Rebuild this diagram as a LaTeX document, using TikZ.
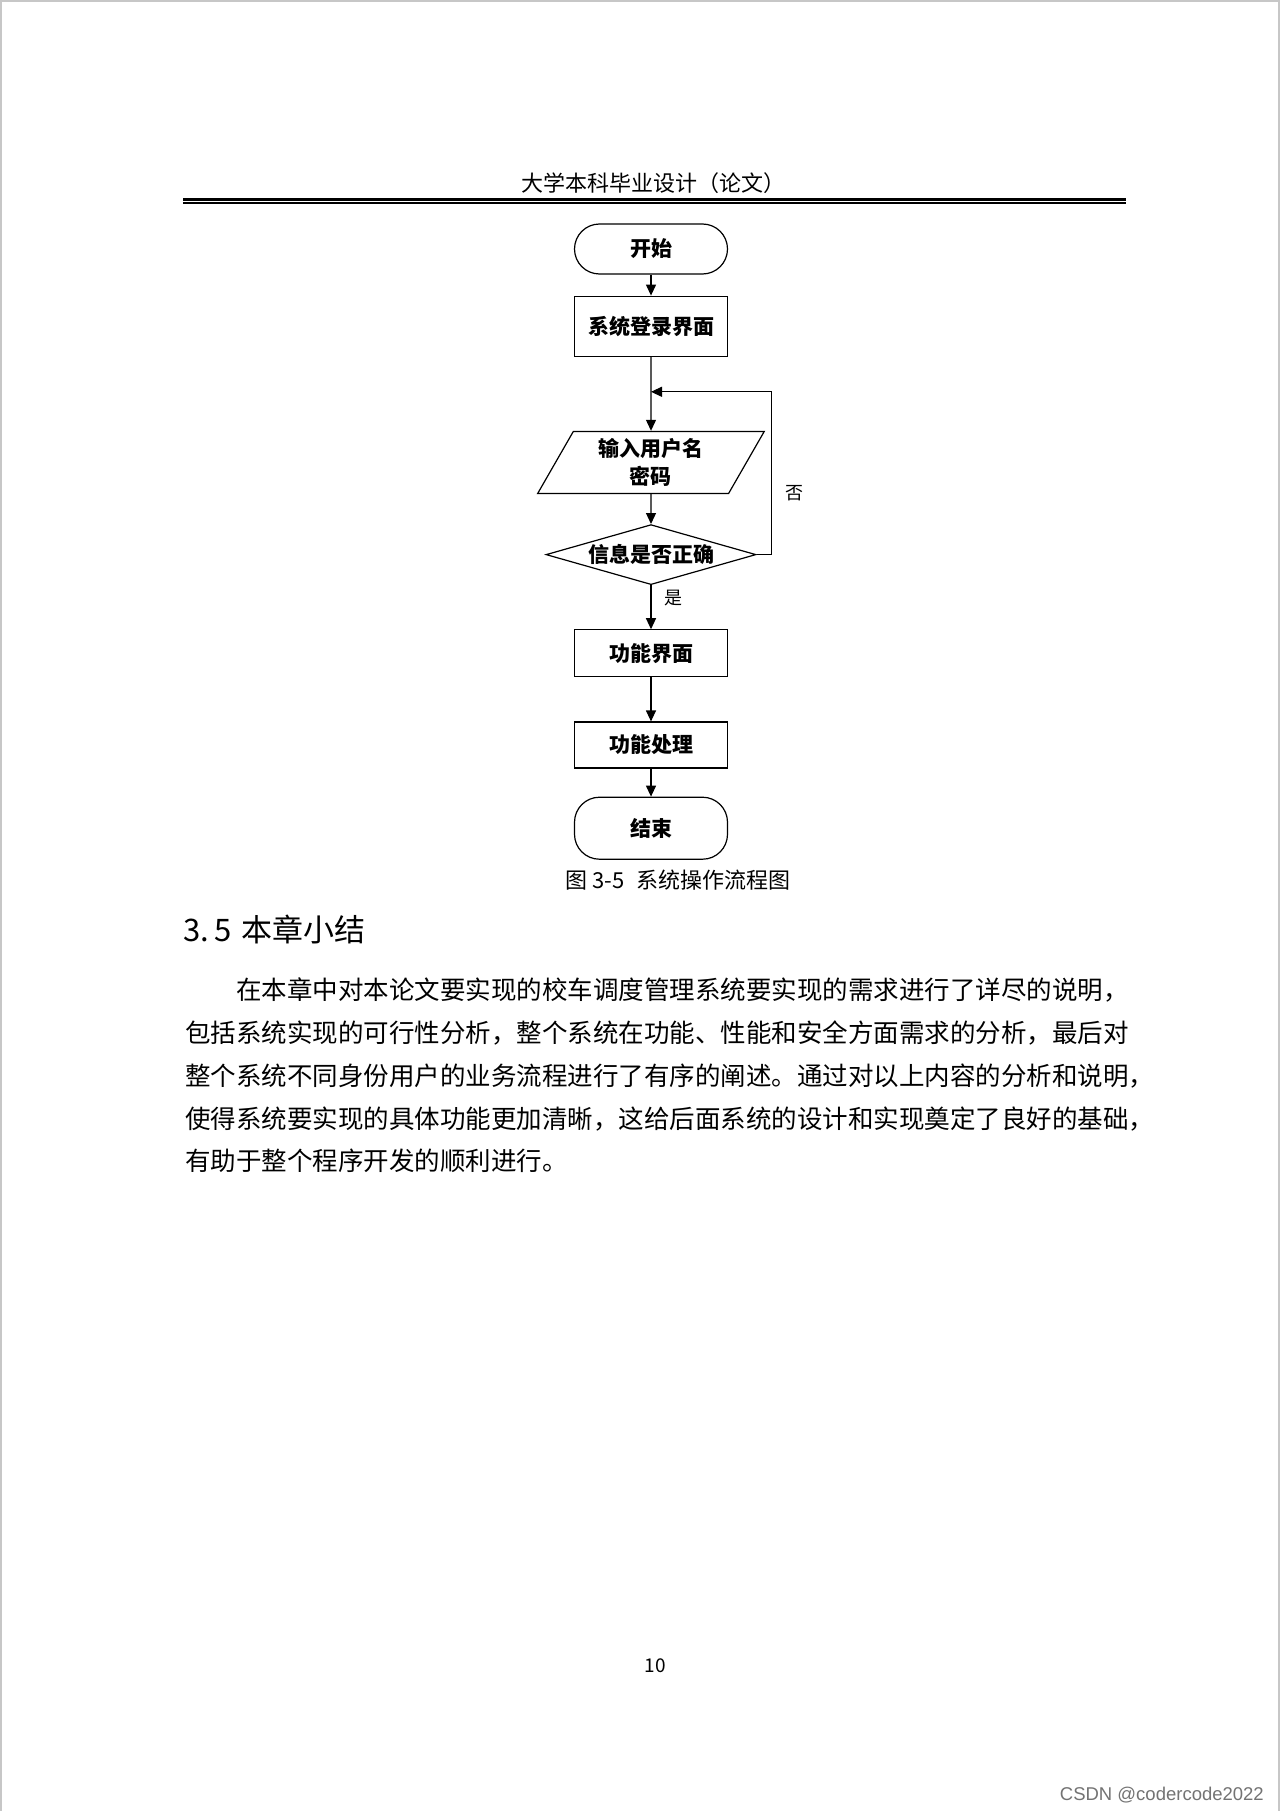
\documentclass[tikz,border=0pt]{standalone}
\usepackage{fontspec}
\setmainfont{Noto Sans CJK SC}
\newfontfamily\wmfont{Liberation Sans}
\usepackage{tikz}
\usetikzlibrary{arrows.meta, positioning, shapes.geometric}
\newcommand{\fsz}[2]{\fontsize{#1pt}{#2pt}\selectfont}

\begin{document}
\begin{tikzpicture}[
    x=1pt, y=-1pt,
    node distance=30pt,
    box/.style={draw, line width=1.2pt, minimum width=153pt, align=center, font=\fsz{21}{28}\bfseries},
    term/.style={box, rounded corners=25pt},
    io/.style={box, trapezium, trapezium left angle=63.4, trapezium right angle=116.6, trapezium stretches=true, minimum width=227pt, minimum height=62pt, inner sep=0pt},
    gate/.style={box, diamond, aspect=3.5, minimum width=210pt, minimum height=60pt, inner sep=0pt},
    line/.style={-{Triangle[length=11pt, width=10pt]}, line width=1.2pt},
    lbl/.style={font=\fsz{18}{22}},
    para/.style={anchor=west, inner sep=0pt, font=\fsz{25.5}{30}}
]
\useasboundingbox (0,0) rectangle (1280,1811);
\fill[white] (0,0) rectangle (1280,1811);
\draw[black!22, line width=2pt] (1,1811) -- (1,1) -- (1279,1) -- (1279,1811);

% Page header
\node[font=\fsz{22}{26}] (head) at (653,183) {大学本科毕业设计（论文）};
\draw[line width=3pt] (183,199.5) -- (1126,199.5);
\draw[line width=1.4pt] (183,203) -- (1126,203);

% Flow
\node[term, minimum height=50pt] (start) at (651,249) {开始};
\node[box, minimum height=60pt, below=21pt of start] (login) {系统登录界面};
\coordinate[below=35pt of login] (join);
\node[io, below=74pt of login] (input) {输入用户名\\密码};
\node[gate, below=30pt of input] (check) {信息是否正确};
\node[box, minimum height=47pt, below=44pt of check] (func) {功能界面};
\node[box, minimum height=46pt, below=44pt of func] (proc) {功能处理};
\node[term, minimum height=62pt, below=28pt of proc] (stop) {结束};

% Arrows
\draw[line] (start) -- (login);
\draw[line] (login) -- (input);
\draw[line] (input) -- (check);
\draw[line] (check) -- node[lbl, pos=0.3, right=10pt] {是} (func);
\draw[line] (func) -- (proc);
\draw[line] (proc) -- (stop);
\draw[line] (check.east) -- ++(15,0) |- node[lbl, pos=0.19, right=10pt] {否} (join);

% Caption
\node[font=\fsz{22}{26}] (cap) at (678,880) {图 3-5\hspace{12pt}系统操作流程图};

% Section text
\node[anchor=west, inner sep=0pt, font=\fsz{31}{36}] (sec) at (183,930) {3.\hspace{5pt}5\hspace{3pt} 本章小结};
\node[para] (p1) at (236,990) {在本章中对本论文要实现的校车调度管理系统要实现的需求进行了详尽的说明，};
\node[para] (p2) at (185,1033) {包括系统实现的可行性分析，整个系统在功能、性能和安全方面需求的分析，最后对};
\node[para] (p3) at (185,1076) {整个系统不同身份用户的业务流程进行了有序的阐述。通过对以上内容的分析和说明，};
\node[para] (p4) at (185,1119) {使得系统要实现的具体功能更加清晰，这给后面系统的设计和实现奠定了良好的基础，};
\node[para] (p5) at (185,1161) {有助于整个程序开发的顺利进行。};

% Footer
\node[font=\fsz{19}{22}] (pnum) at (655,1666) {10};
\node[anchor=east, inner sep=0pt, text=black!55, font=\wmfont\fsz{18.5}{22}] (wm) at (1264,1795) {CSDN @codercode2022};

\end{tikzpicture}
\end{document}
